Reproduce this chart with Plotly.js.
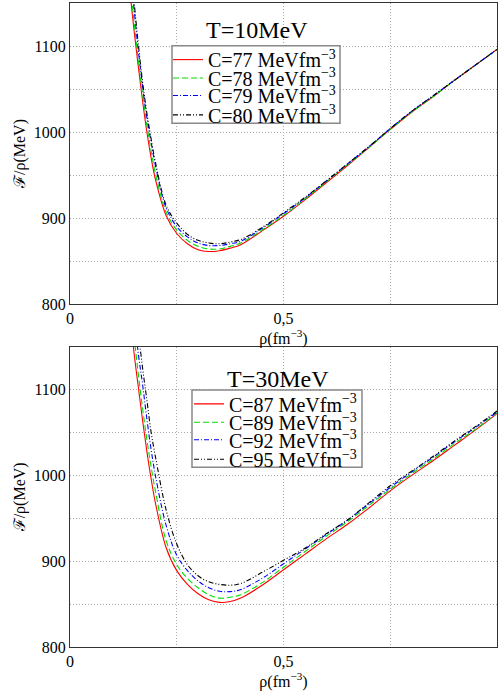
<!DOCTYPE html>
<html>
<head>
<meta charset="utf-8">
<script src="https://cdn.plot.ly/plotly-3.0.1.min.js"></script>
<style>html,body{margin:0;padding:0;background:#fff;}#chart{width:498px;height:692px;}</style>
</head>
<body>
<div id="chart"></div>
<script>
// density grid (fm^-3)
const rho = [0.14,0.15,0.16,0.17,0.18,0.19,0.2,0.225,0.25,0.275,0.3,0.325,0.35,0.375,0.4,0.45,0.5,0.55,0.6,0.65,0.7,0.75,0.8,0.85,0.9,0.95,1.0];

// T = 10 MeV
const t10Names = ['C=77 MeVfm<sup>−3</sup>','C=78 MeVfm<sup>−3</sup>','C=79 MeVfm<sup>−3</sup>','C=80 MeVfm<sup>−3</sup>'];
const t10_C77 = [1165,1118,1076,1036,1000,970,945,903,882,870,863,861,862,865,869,885,902,921,941,961,982,1003,1023,1041,1060,1078,1096];
const t10_C78 = [1178,1128,1084,1044,1008,978,952,907,886,874,867,864,864,867,871,886,903,922,942,962,982,1003,1023,1041,1060,1078,1096];
const t10_C79 = [1195,1143,1095,1053,1017,988,961,912,890,878,871,868,868,870,873,888,905,923,943,963,983,1004,1024,1042,1060,1078,1096];
const t10_C80 = [1205,1152,1102,1058,1022,992,965,915,894,881,874,871,870,872,875,889,906,924,943,963,983,1004,1024,1042,1060,1078,1096];

// T = 30 MeV
const t30Names = ['C=87 MeVfm<sup>−3</sup>','C=89 MeVfm<sup>−3</sup>','C=92 MeVfm<sup>−3</sup>','C=95 MeVfm<sup>−3</sup>'];
const t30_C87 = [1195,1143,1103,1064,1028,996,968,916,889,873,862,855,852,853,857,872,890,908,926,943,962,982,1000,1017,1035,1053,1072];
const t30_C89 = [1215,1163,1118,1078,1042,1010,982,924,896,880,869,861,857,858,861,875,893,911,929,946,965,984,1002,1019,1037,1054,1073];
const t30_C92 = [1245,1190,1142,1106,1066,1030,1000,942,907,889,877,869,865,864.5,867,880,897,914,931,948,967,986,1004,1021,1039,1056,1074];
const t30_C95 = [1280,1220,1168,1125,1088,1050,1022,960,920,896,883,876,873,872,874,887,901,915,932,948,968,988,1005,1022,1040,1057,1075];

const xTickVals = [0, 0.5, 1];
const xTickText = ['0', '0,5', '1'];
const yTickVals = [800, 900, 1000, 1100];

const colors = ['#ff0000', '#00dd00', '#0000ff', '#000000'];
const dashes = ['solid', '6px,3px', '5px,2px,1px,2px', '5px,2px,1px,2px,1px,2px'];

const serif = '"Liberation Serif", "Times New Roman", serif';

const traces = [];
const topSeries = [t10_C77, t10_C78, t10_C79, t10_C80];
const botSeries = [t30_C87, t30_C89, t30_C92, t30_C95];
topSeries.forEach((ys, i) => traces.push({
  x: rho, y: ys, xaxis: 'x', yaxis: 'y', type: 'scatter', mode: 'lines',
  name: t10Names[i], legend: i === 0 ? 'legend' : 'legend' + (i + 1),
  line: {color: colors[i], width: 1.1, dash: dashes[i], shape: 'spline', smoothing: 1}
}));
botSeries.forEach((ys, i) => traces.push({
  x: rho, y: ys, xaxis: 'x2', yaxis: 'y2', type: 'scatter', mode: 'lines',
  name: t30Names[i], legend: 'legend' + (i + 5),
  line: {color: colors[i], width: 1.1, dash: dashes[i], shape: 'spline', smoothing: 1}
}));

const gridStyle = {showgrid: true, gridcolor: '#aaa', griddash: '1px,2px', gridwidth: 1};
function xAxis(anchor) {
  return Object.assign({
    anchor: anchor, domain: [0, 1], range: [0, 1],
    tickmode: 'array', tickvals: xTickVals, ticktext: xTickText,
    minor: {tickmode: 'linear', tick0: 0, dtick: 0.25, showgrid: true, gridcolor: '#aaa', griddash: '1px,2px', gridwidth: 1, ticks: ''},
    showline: true, mirror: true, linecolor: '#333', linewidth: 1, zeroline: false, ticks: '',
    tickfont: {family: serif, size: 16, color: '#000'},
    title: {text: 'ρ(fm<sup>−3</sup>)', font: {family: serif, size: 16, color: '#000'}, standoff: 2}
  }, gridStyle);
}
function yAxis(anchor, domain) {
  return Object.assign({
    anchor: anchor, domain: domain, range: [800, 1150],
    tickmode: 'array', tickvals: yTickVals,
    minor: {tickmode: 'linear', tick0: 800, dtick: 50, showgrid: true, gridcolor: '#aaa', griddash: '1px,2px', gridwidth: 1, ticks: ''},
    showline: true, mirror: true, linecolor: '#333', linewidth: 1, zeroline: false, ticks: '',
    tickfont: {family: serif, size: 16, color: '#000'},
    title: {text: 'ℱ/ρ(MeV)', font: {family: serif, size: 16, color: '#000'}, standoff: 4}
  }, gridStyle);
}

const legendBase = {
  xanchor: 'left', yanchor: 'middle', bgcolor: 'rgba(0,0,0,0)', borderwidth: 0,
  font: {family: serif, size: 20, color: '#000'}, itemwidth: 30
};
const legY = [0.9121, 0.8835, 0.8564, 0.8263, 0.3775, 0.3489, 0.3218, 0.2916];
const layout = {
  width: 498, height: 692,
  margin: {l: 70, r: 1, t: 3, b: 45},
  paper_bgcolor: '#fff', plot_bgcolor: '#fff',
  showlegend: true,
  xaxis: xAxis('y'), yaxis: yAxis('x', [0.5326, 1]),
  xaxis2: xAxis('y2'), yaxis2: yAxis('x2', [0, 0.4663]),
  shapes: [
    {type: 'rect', xref: 'paper', yref: 'paper', x0: 0.2389, x1: 0.6323, y0: 0.8132, y1: 0.9337,
     line: {color: '#888', width: 1.5}, fillcolor: '#fff', layer: 'above'},
    {type: 'rect', xref: 'paper', yref: 'paper', x0: 0.2857, x1: 0.6838, y0: 0.2792, y1: 0.3991,
     line: {color: '#888', width: 1.5}, fillcolor: '#fff', layer: 'above'}
  ],
  annotations: [
    {xref: 'paper', yref: 'paper', x: 0.4372, y: 0.958, text: 'T=10MeV', showarrow: false,
     font: {family: serif, size: 24, color: '#000'}, xanchor: 'center', yanchor: 'middle'},
    {xref: 'paper', yref: 'paper', x: 0.486, y: 0.4154, text: 'T=30MeV', showarrow: false,
     font: {family: serif, size: 24, color: '#000'}, xanchor: 'center', yanchor: 'middle'}
  ]
};
for (let i = 0; i < 8; i++) {
  const key = i === 0 ? 'legend' : 'legend' + (i + 1);
  layout[key] = Object.assign({}, legendBase, {x: i < 4 ? 0.2295 : 0.2787, y: legY[i]});
}

Plotly.newPlot('chart', traces, layout, {displayModeBar: false, staticPlot: true});
</script>
</body>
</html>
